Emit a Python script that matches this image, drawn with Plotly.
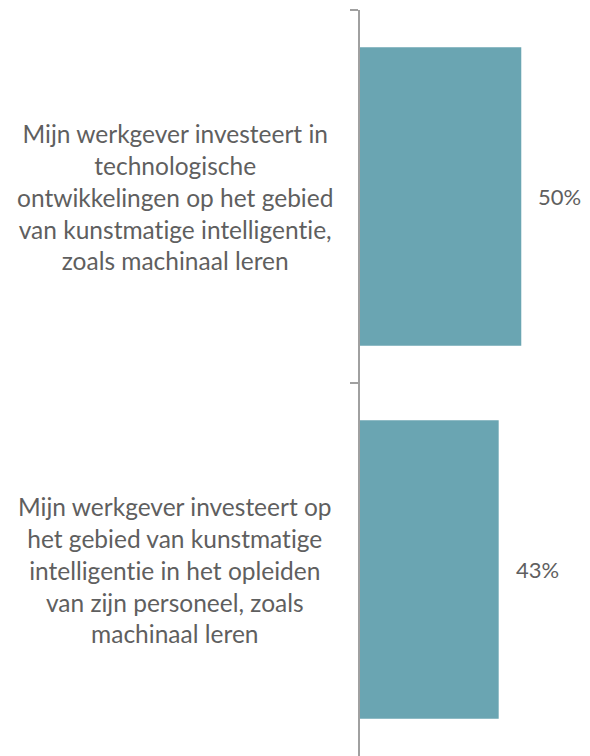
import plotly.graph_objects as go

categories = [
    "Mijn werkgever investeert in<br>technologische<br>ontwikkelingen op het gebied<br>van kunstmatige intelligentie,<br>zoals machinaal leren",
    "Mijn werkgever investeert op<br>het gebied van kunstmatige<br>intelligentie in het opleiden<br>van zijn personeel, zoals<br>machinaal leren",
]
keys = ["tech", "opleiden"]
values = [50, 43]
value_labels = ["50%", "43%"]

bar_color = "#6aa5b2"
text_color = "#5f5f5f"
axis_color = "#a0a0a0"
font_family = "Lato, 'Open Sans', sans-serif"


def no_ti_ligature(s):
    # zero-width non-joiner keeps Lato from drawing its "ti" ligature
    return s.replace("ti", "t\u200ci")


fig = go.Figure()

fig.add_trace(go.Bar(
    x=values,
    y=keys,
    orientation="h",
    marker=dict(color=bar_color, line=dict(width=0)),
    hoverinfo="skip",
))

# category labels, centred text to the left of the axis
for key, label in zip(keys, categories):
    fig.add_annotation(
        x=0, xref="paper", xshift=-185,
        y=key, yref="y",
        text=no_ti_ligature(label),
        showarrow=False,
        align="center",
        xanchor="center",
        yanchor="middle",
        font=dict(family=font_family, size=24.5, color=text_color),
    )

# value labels right of the bars
for key, v, lab in zip(keys, values, value_labels):
    fig.add_annotation(
        x=v, y=key,
        text=lab,
        showarrow=False,
        xanchor="left",
        xshift=15,
        font=dict(family=font_family, size=22, color=text_color),
    )

fig.update_layout(
    width=590,
    height=756,
    margin=dict(l=352, r=9, t=2, b=8),
    paper_bgcolor="white",
    plot_bgcolor="white",
    bargap=0.2,
    showlegend=False,
    xaxis=dict(
        range=[0, 71],
        visible=False,
        fixedrange=True,
    ),
    yaxis=dict(
        type="category",
        autorange="reversed",
        showticklabels=False,
        showline=True,
        linecolor=axis_color,
        linewidth=2,
        ticks="outside",
        tickson="boundaries",
        ticklen=8,
        tickwidth=2,
        tickcolor=axis_color,
        showgrid=False,
        zeroline=False,
    ),
)

fig.write_html("out.html")
